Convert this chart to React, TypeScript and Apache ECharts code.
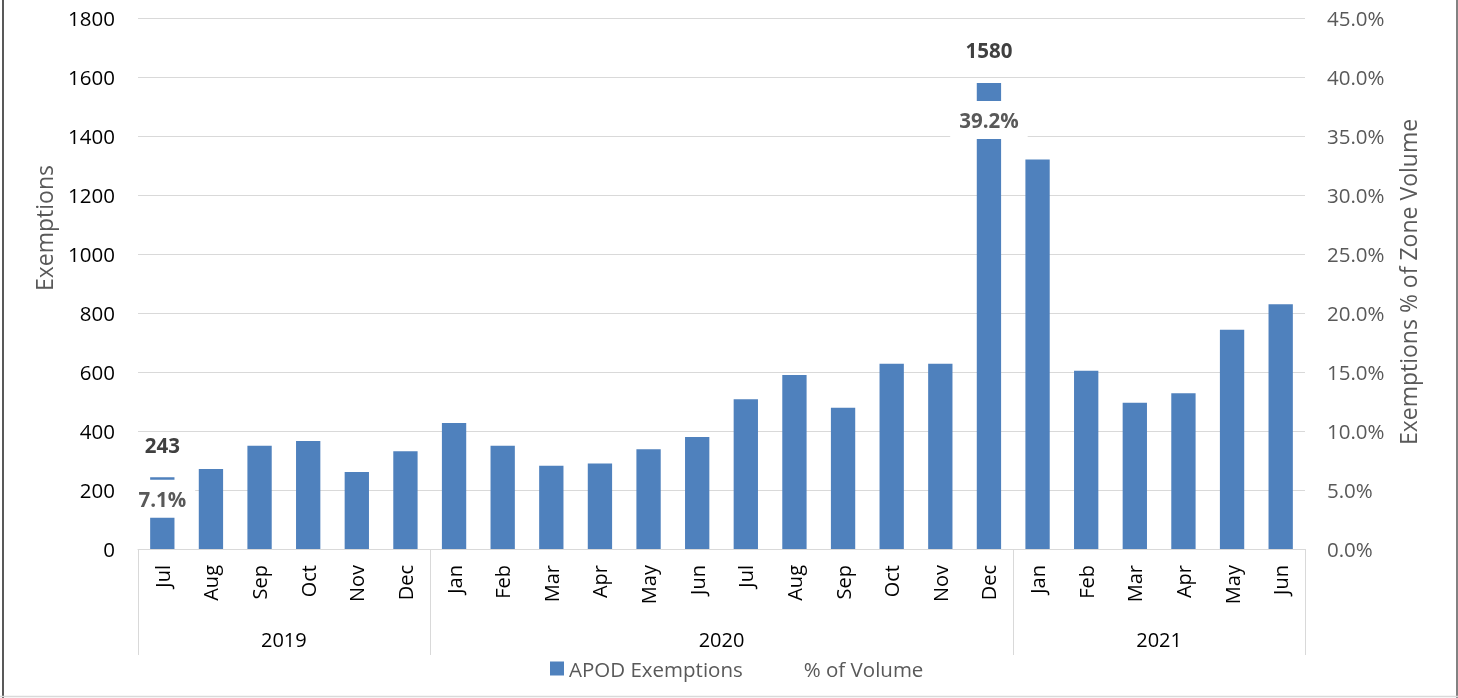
import React, { useEffect, useRef } from 'react';
import * as echarts from 'echarts';

// ---- data ----
const months = ['Jul', 'Aug', 'Sep', 'Oct', 'Nov', 'Dec', 'Jan', 'Feb', 'Mar', 'Apr', 'May', 'Jun', 'Jul', 'Aug', 'Sep', 'Oct', 'Nov', 'Dec', 'Jan', 'Feb', 'Mar', 'Apr', 'May', 'Jun'];
const years = ['2019', '2020', '2021'];
const monthsPerYear = [6, 12, 6];
const exemptions = [243, 271, 350, 366, 261, 331, 427, 350, 282, 290, 338, 380, 508, 590, 479, 628, 628, 1580, 1320, 604, 496, 528, 743, 830];
const pctVolume: (number | null)[] = [7.1, null, null, null, null, null, null, null, null, null, null, null, null, null, null, null, null, 39.2, null, null, null, null, null, null];
const labeledIdx = [0, 17];
const leftAxis = { min: 0, max: 1800, interval: 200 };
const rightAxis = { min: 0, max: 45, interval: 5 };

const FONT = "'Open Sans', sans-serif";

export default function App() {
  const ref = useRef<HTMLDivElement>(null);
  useEffect(() => {
    if (!ref.current) return;
    const chart = echarts.init(ref.current, undefined, { renderer: 'svg' });

    const bounds: number[] = [0];
    monthsPerYear.forEach((n) => bounds.push(bounds[bounds.length - 1] + n));
    const centers = monthsPerYear.map((n, i) => bounds[i] + n / 2);

    chart.setOption({
      animation: false,
      textStyle: { fontFamily: FONT },
      grid: { left: 138, right: 153, top: 18, bottom: 149, containLabel: false },
      legend: {
        left: 545,
        top: 653,
        selectedMode: false,
        itemWidth: 14,
        itemHeight: 14,
        itemGap: 42,
        textStyle: { fontFamily: FONT, fontSize: 20.5, color: '#595959' },
        data: [
          { name: 'APOD Exemptions', icon: 'rect' },
          { name: '% of Volume', itemStyle: { opacity: 0 }, lineStyle: { opacity: 0 } },
        ],
      },
      xAxis: [
        {
          type: 'category',
          data: months,
          axisLine: { lineStyle: { color: '#d9d9d9', width: 1 } },
          axisTick: { show: false },
          axisLabel: { rotate: 90, margin: 16, color: '#000', fontSize: 20, fontFamily: FONT },
        },
        {
          type: 'value',
          min: 0,
          max: months.length,
          position: 'bottom',
          axisLine: { show: false },
          splitLine: { show: false },
          axisTick: { show: true, customValues: bounds, length: 106, lineStyle: { color: '#d9d9d9', width: 1 } },
          axisLabel: {
            customValues: centers,
            margin: 80,
            color: '#000',
            fontSize: 20,
            fontFamily: FONT,
            formatter: (v: number) => {
              const i = centers.findIndex((c) => Math.abs(c - v) < 1e-6);
              return i >= 0 ? years[i] : '';
            },
          },
        },
      ],
      yAxis: [
        {
          type: 'value',
          min: leftAxis.min,
          max: leftAxis.max,
          interval: leftAxis.interval,
          axisLine: { show: false },
          axisTick: { show: false },
          axisLabel: { color: '#000', fontSize: 20.5, margin: 23, fontFamily: FONT, formatter: (v: number) => String(v) },
          splitLine: { lineStyle: { color: '#d9d9d9', width: 1 } },
        },
        {
          type: 'value',
          min: rightAxis.min,
          max: rightAxis.max,
          interval: rightAxis.interval,
          position: 'right',
          axisLine: { show: false },
          axisTick: { show: false },
          splitLine: { show: false },
          axisLabel: {
            color: '#595959',
            fontSize: 20.5,
            margin: 22,
            fontFamily: FONT,
            formatter: (v: number) => v.toFixed(1) + '%',
          },
        },
      ],
      graphic: [
        { type: 'line', shape: { x1: 3, y1: 0, x2: 3, y2: 698 }, style: { stroke: '#595959', lineWidth: 2 } },
        { type: 'line', shape: { x1: 1457, y1: 0, x2: 1457, y2: 698 }, style: { stroke: '#595959', lineWidth: 1.5 } },
        { type: 'line', shape: { x1: 0, y1: 696.5, x2: 1458, y2: 696.5 }, style: { stroke: '#d9d9d9', lineWidth: 1.5 } },
        {
          type: 'text',
          x: 44,
          y: 228,
          rotation: Math.PI / 2,
          style: { text: 'Exemptions', font: `23px ${FONT}`, fill: '#595959', align: 'center', verticalAlign: 'middle' },
        },
        {
          type: 'text',
          x: 1408,
          y: 282,
          rotation: Math.PI / 2,
          style: { text: 'Exemptions % of Zone Volume', font: `23px ${FONT}`, fill: '#595959', align: 'center', verticalAlign: 'middle' },
        },
      ],
      series: [
        {
          name: 'APOD Exemptions',
          type: 'bar',
          xAxisIndex: 0,
          yAxisIndex: 0,
          barWidth: '50%',
          itemStyle: { color: '#4f81bd' },
          label: {
            show: false,
            position: 'top',
            distance: 22,
            fontSize: 20.5,
            fontWeight: 'bold',
            color: '#404040',
            fontFamily: FONT,
          },
          data: exemptions.map((v, i) => (labeledIdx.includes(i) ? { value: v, label: { show: true } } : v)),
        },
        {
          name: '% of Volume',
          type: 'line',
          xAxisIndex: 0,
          yAxisIndex: 1,
          z: 5,
          symbol: 'circle',
          symbolSize: 1,
          itemStyle: { color: 'rgba(0,0,0,0)' },
          lineStyle: { color: 'rgba(0,0,0,0)', width: 0 },
          label: {
            show: true,
            position: 'bottom',
            distance: 14,
            fontSize: 20.5,
            fontWeight: 'bold',
            color: '#595959',
            fontFamily: FONT,
            backgroundColor: '#ffffff',
            padding: [5, 9],
            lineHeight: 28,
            formatter: (p: any) => (p.value == null ? '' : Number(p.value).toFixed(1) + '%'),
          },
          data: pctVolume,
        },
      ],
    });
    return () => chart.dispose();
  }, []);
  return <div ref={ref} style={{ position: 'fixed', left: 0, top: 0, width: 1458, height: 698 }} />;
}
